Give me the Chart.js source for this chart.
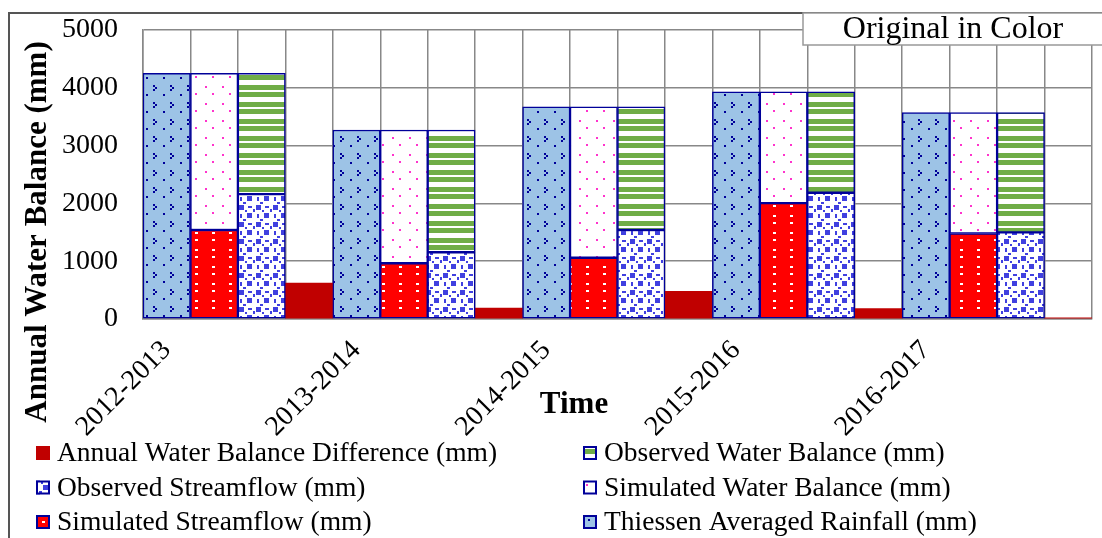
<!DOCTYPE html>
<html>
<head>
<meta charset="utf-8">
<script src="https://cdn.jsdelivr.net/npm/chart.js@4.4.1/dist/chart.umd.min.js"></script>
<style>
  html, body { margin: 0; padding: 0; background: #ffffff; }
  #wrap { width: 1102px; height: 538px; position: relative; }
</style>
</head>
<body>
<div id="wrap"><canvas id="c" width="1102" height="538"></canvas></div>
<script>
// Annual water balance per hydrological year (mm)
const periods = ['2012-2013', '2013-2014', '2014-2015', '2015-2016', '2016-2017'];
const rainfall = [4250, 3270, 3670, 3930, 3570];
const simStreamflow = [1540, 965, 1060, 2005, 1480];
const simWaterBalance = [2710, 2305, 2610, 1925, 2090];
const obsStreamflow = [2160, 1155, 1540, 2185, 1500];
const obsWaterBalance = [2090, 2115, 2130, 1745, 2070];
const balanceDifference = [620, 190, 480, 180, 20];
const yTicks = [0, 1000, 2000, 3000, 4000, 5000];

// Every year occupies four adjacent bar slots
const SLOTS = ['rain', 'sim', 'obs', 'diff'];
const slotLabels = [];
periods.forEach(p => slotLabels.push(p, '', '', ''));
function place(values, slot) {
  const out = [];
  values.forEach(v => SLOTS.forEach(s => out.push(s === slot ? v : null)));
  return out;
}

const canvas = document.getElementById('c');
const mainCtx = canvas.getContext('2d');
const TILE = 17;
function makePattern(bg, draw) {
  const t = document.createElement('canvas');
  t.width = TILE; t.height = TILE;
  const g = t.getContext('2d');
  g.fillStyle = bg;
  g.fillRect(0, 0, TILE, TILE);
  draw(g);
  return mainCtx.createPattern(t, 'repeat');
}

const rainFill = makePattern('#9dc3e6', g => {
  g.fillStyle = '#000099';
  g.fillRect(0, 0, 2, 2); g.fillRect(2, 2, 2, 2); g.fillRect(0, 4, 2, 2);
  g.fillRect(10, 9, 2, 2);
});
const simFlowFill = makePattern('#ff0000', g => {
  g.fillStyle = '#ffffff';
  g.fillRect(8, 1, 3, 2); g.fillRect(8, 11, 3, 2);
});
const simBalFill = makePattern('#ffffff', g => {
  g.fillStyle = '#ff33cc';
  g.fillRect(1, 1, 2, 2); g.fillRect(8, 8, 2, 2);
});
const obsFlowFill = makePattern('#ffffff', g => {
  g.fillStyle = '#4040e0';
  g.fillRect(1, 1, 5, 5); g.fillRect(9, 9, 5, 5);
  g.fillRect(10, 2, 4, 2); g.fillRect(2, 10, 2, 4);
  g.fillRect(7, 6, 2, 2);
  g.fillRect(15, 5, 2, 3); g.fillRect(5, 15, 3, 2);
});
const obsBalFill = makePattern('#ffffff', g => {
  g.fillStyle = '#70ad47';
  g.fillRect(0, 0, TILE, 5); g.fillRect(0, 7, TILE, 5);
});

const EDGE = '#000099';
const datasets = [
  { label: 'Thiessen Averaged Rainfall (mm)', data: place(rainfall, 'rain'), backgroundColor: rainFill, borderColor: EDGE, borderWidth: 1.5 },
  { label: 'Simulated Streamflow (mm)', data: place(simStreamflow, 'sim'), backgroundColor: simFlowFill, borderColor: EDGE, borderWidth: 1.5 },
  { label: 'Simulated Water Balance (mm)', data: place(simWaterBalance, 'sim'), backgroundColor: simBalFill, borderColor: EDGE, borderWidth: 1.5 },
  { label: 'Observed Streamflow (mm)', data: place(obsStreamflow, 'obs'), backgroundColor: obsFlowFill, borderColor: EDGE, borderWidth: 1.5 },
  { label: 'Observed Water Balance (mm)', data: place(obsWaterBalance, 'obs'), backgroundColor: obsBalFill, borderColor: EDGE, borderWidth: 1.5 },
  { label: 'Annual Water Balance Difference (mm)', data: place(balanceDifference, 'diff'), backgroundColor: '#c00000', borderColor: '#c00000', borderWidth: 0 }
];
datasets.forEach(d => { d.barPercentage = 1; d.categoryPercentage = 1; d.borderSkipped = false; });

// Two-column legend, read row by row
const legendOrder = [
  'Annual Water Balance Difference (mm)', 'Observed Water Balance (mm)',
  'Observed Streamflow (mm)', 'Simulated Water Balance (mm)',
  'Simulated Streamflow (mm)', 'Thiessen Averaged Rainfall (mm)'
];

const SERIF = '"Liberation Serif", "Times New Roman", serif';

const decorations = {
  id: 'decorations',
  beforeDraw(chart) {
    const ctx = chart.ctx;
    ctx.save();
    ctx.fillStyle = '#ffffff';
    ctx.fillRect(0, 0, chart.width, chart.height);
    ctx.restore();
  },
  afterDraw(chart) {
    const ctx = chart.ctx;
    ctx.save();
    // outer frame
    ctx.strokeStyle = '#555555';
    ctx.lineWidth = 2;
    ctx.strokeRect(9, 13, 1200, 600);

    // axis titles
    ctx.fillStyle = '#000000';
    ctx.font = 'bold 31px ' + SERIF;
    ctx.textAlign = 'center';
    ctx.textBaseline = 'middle';
    ctx.save();
    ctx.translate(38, 232);
    ctx.rotate(-Math.PI / 2);
    ctx.fillText('Annual Water Balance (mm)', 0, 0);
    ctx.restore();
    ctx.fillText('Time', 574, 405);

    // note box
    ctx.fillStyle = '#ffffff';
    ctx.fillRect(803, 13, 320, 32);
    ctx.strokeStyle = '#999999';
    ctx.lineWidth = 1.5;
    ctx.strokeRect(803, 13, 320, 32);
    ctx.fillStyle = '#000000';
    ctx.font = '32px ' + SERIF;
    ctx.fillText('Original in Color', 953, 30);

    // legend
    ctx.font = '27.5px ' + SERIF;
    ctx.textAlign = 'left';
    const colX = [36, 583];
    const rowY = [453, 487.5, 522];
    legendOrder.forEach((name, i) => {
      const ds = chart.data.datasets.find(d => d.label === name);
      const x = colX[i % 2];
      const y = rowY[Math.floor(i / 2)];
      ctx.fillStyle = ds.backgroundColor;
      ctx.fillRect(x, y - 7, 14, 14);
      if (ds.borderWidth > 0) {
        ctx.strokeStyle = ds.borderColor;
        ctx.lineWidth = 2;
        ctx.strokeRect(x + 1, y - 6, 12, 12);
      }
      ctx.fillStyle = '#000000';
      ctx.fillText(name, x + 21, y + 1);
    });
    ctx.restore();
  }
};

new Chart(canvas, {
  type: 'bar',
  data: { labels: slotLabels, datasets },
  plugins: [decorations],
  options: {
    responsive: false,
    animation: false,
    layout: { padding: { top: 30, right: 10, bottom: 0, left: 0 } },
    plugins: { legend: { display: false }, tooltip: { enabled: false } },
    scales: {
      x: {
        stacked: true,
        grid: { color: '#888888', lineWidth: 1.5, offset: true, drawTicks: false },
        border: { color: '#888888', width: 1.5 },
        ticks: {
          autoSkip: false, minRotation: 45, maxRotation: 45, padding: 15,
          color: '#000000', font: { family: SERIF, size: 28 }
        },
        afterFit(scale) {
          scale.height = 219;
          scale.paddingLeft = 0;
          scale.paddingRight = 0;
        }
      },
      y: {
        stacked: true,
        min: 0, max: 5000,
        grid: { color: '#888888', lineWidth: 1.5, drawTicks: true, tickLength: 22, tickColor: 'rgba(0,0,0,0)' },
        border: { color: '#888888', width: 1.5 },
        ticks: {
          padding: 3, color: '#000000', font: { family: SERIF, size: 28 },
          callback: v => String(v)
        },
        afterBuildTicks(scale) { scale.ticks = yTicks.map(v => ({ value: v })); },
        afterFit(scale) { scale.width = 143; }
      }
    }
  }
});
</script>
</body>
</html>
